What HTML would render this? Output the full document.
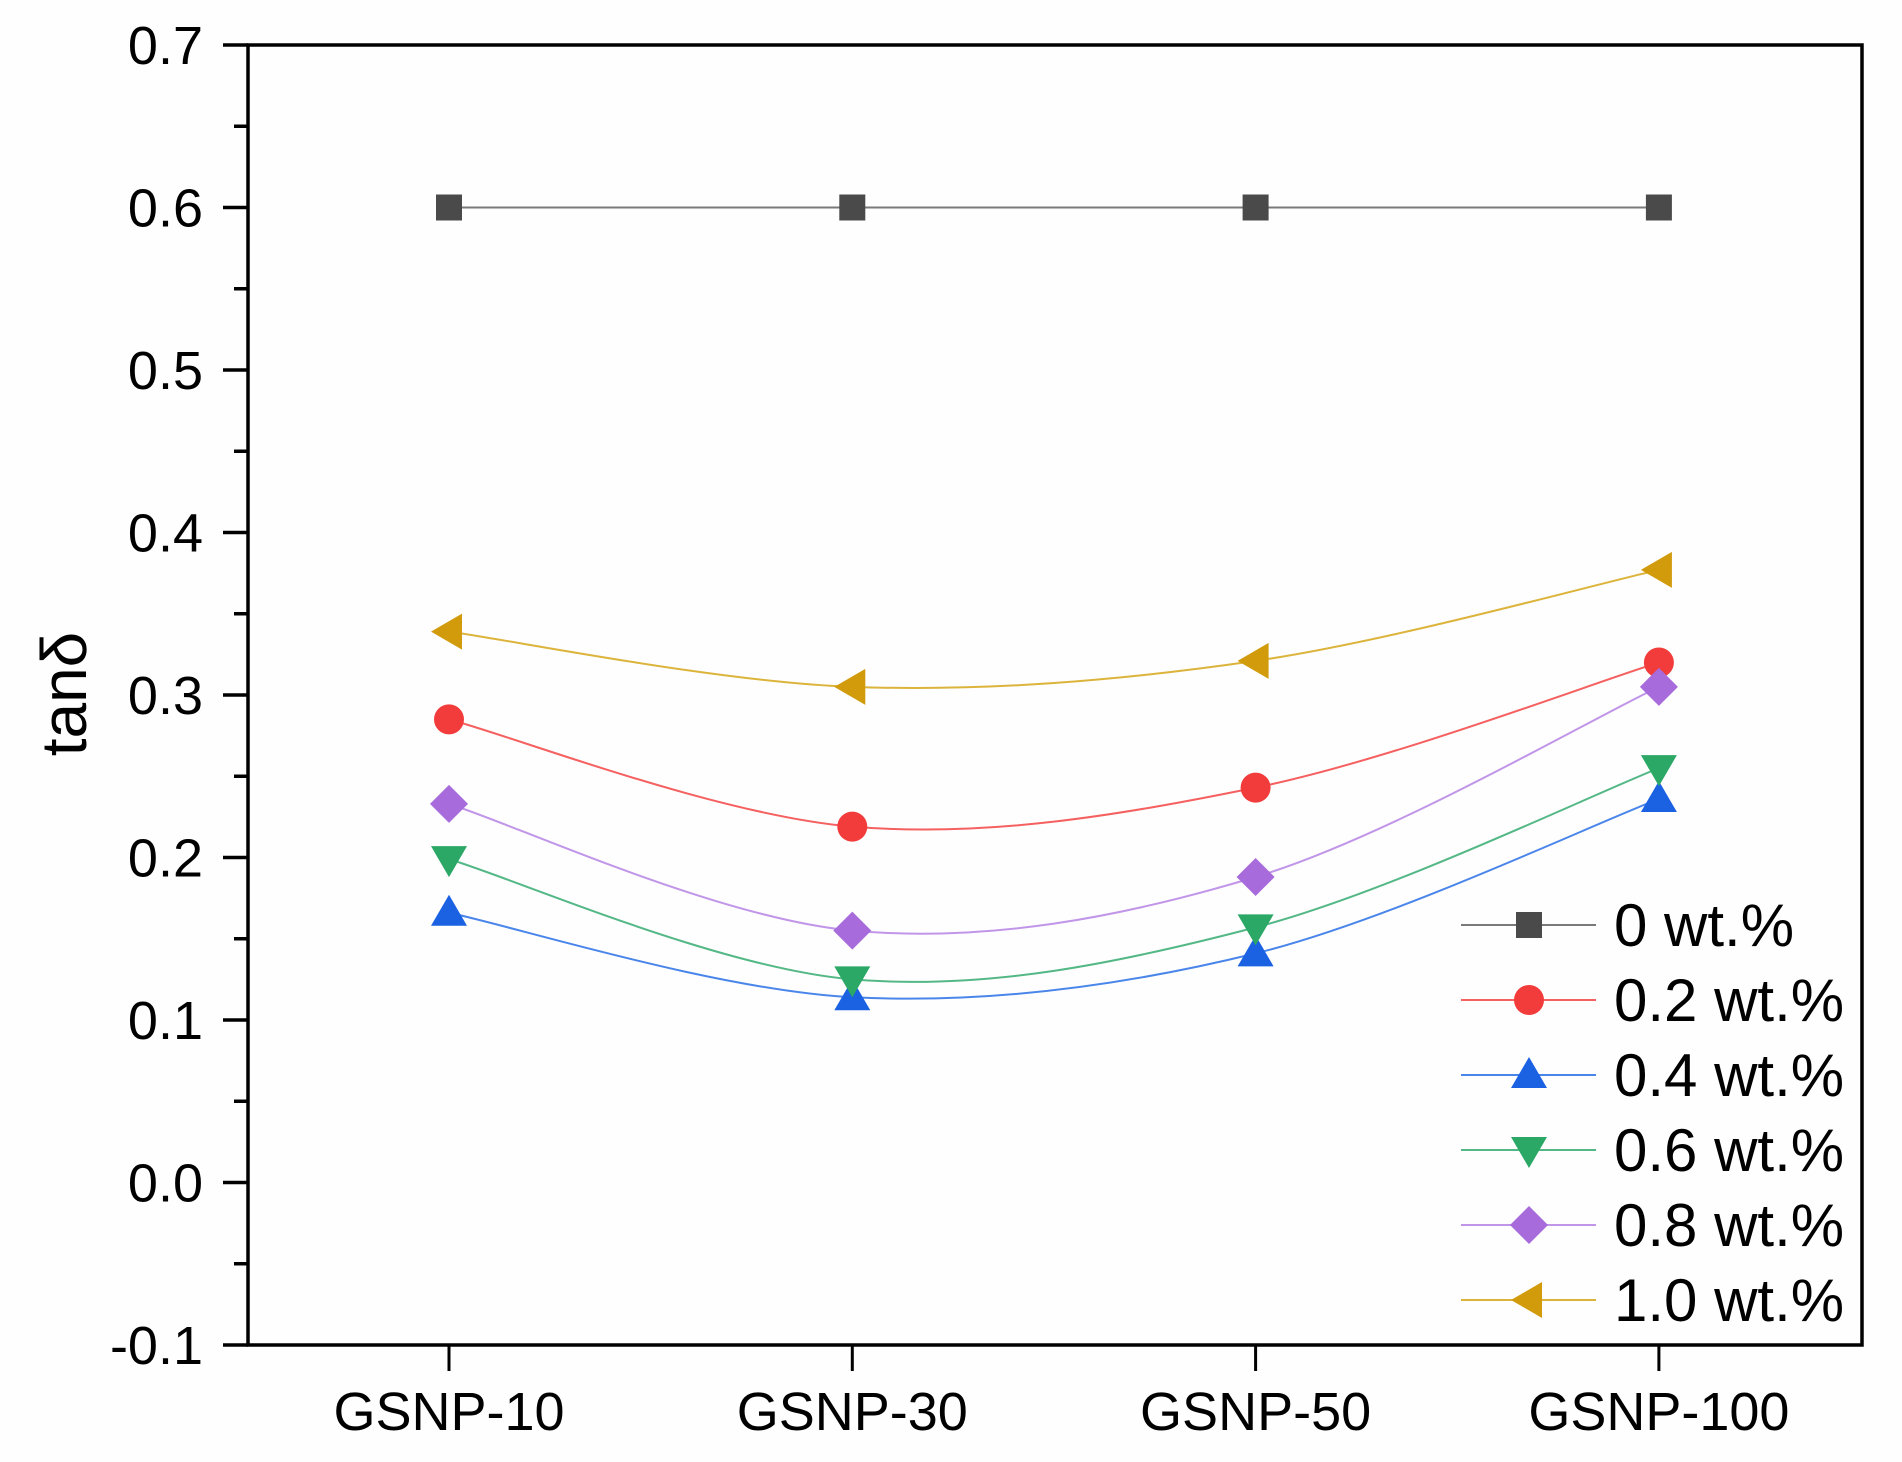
<!DOCTYPE html>
<html><head><meta charset="utf-8"><style>
html,body{margin:0;padding:0;background:#fff;}
svg{display:block;font-family:"Liberation Sans",Arial,sans-serif;}
</style></head><body>
<svg id="chart" width="1902" height="1462" viewBox="0 0 1902 1462" xmlns="http://www.w3.org/2000/svg">
<rect x="0" y="0" width="1902" height="1462" fill="#fefefe"/>
<g id="plot"></g>
</svg>
<script>
const categories = ["GSNP-10","GSNP-30","GSNP-50","GSNP-100"];
const seriesNames = ["0 wt.%","0.2 wt.%","0.4 wt.%","0.6 wt.%","0.8 wt.%","1.0 wt.%"];
const s0 = [0.600,0.600,0.600,0.600];
const s02 = [0.285,0.219,0.243,0.320];
const s04 = [0.166,0.114,0.141,0.236];
const s06 = [0.199,0.125,0.157,0.255];
const s08 = [0.233,0.155,0.188,0.305];
const s10 = [0.339,0.305,0.321,0.377];
const yTicks = [-0.1,0.0,0.1,0.2,0.3,0.4,0.5,0.6,0.7];
const yTickLabels = ["-0.1","0.0","0.1","0.2","0.3","0.4","0.5","0.6","0.7"];

const NS="http://www.w3.org/2000/svg";
const g=document.getElementById('plot');
const L=248,R=1862,T=45,B=1345;
const xFirst=449,xStep=403.3;
function xs(i){return xFirst+i*xStep;}
function ys(v){return B-(v-(-0.1))/0.8*(B-T);}
function mk(tag,attrs,parent){const e=document.createElementNS(NS,tag);for(const k in attrs)e.setAttribute(k,attrs[k]);(parent||g).appendChild(e);return e;}

const frame=mk('rect',{x:L,y:T,width:R-L,height:B-T,fill:'none',stroke:'#000','stroke-width':3.5});



for(let i=0;i<yTicks.length;i++){
  const y=ys(yTicks[i]);
  const t=mk('line',{x1:L-25,x2:L,y1:y,y2:y,stroke:'#000','stroke-width':3.5});
  
  
  const lb=mk('text',{x:203,y:y+19,'text-anchor':'end','font-size':54,fill:'#000'});
  lb.textContent=yTickLabels[i];
  
  
  if(i<yTicks.length-1){
    const ym=ys(yTicks[i]+0.05);
    const m=mk('line',{x1:L-14,x2:L,y1:ym,y2:ym,stroke:'#000','stroke-width':3.5});
    
    
  }
}
for(let i=0;i<categories.length;i++){
  const x=xs(i);
  const t=mk('line',{x1:x,x2:x,y1:B,y2:B+26,stroke:'#000','stroke-width':3});
  
  
  const lb=mk('text',{x:x,y:1430,'text-anchor':'middle','font-size':54,fill:'#000'});
  lb.textContent=categories[i];
  
  
}
const yt=mk('text',{x:0,y:0,'text-anchor':'middle','font-size':64,fill:'#000',transform:'translate(86,694) rotate(-90)'});
yt.textContent='tanδ';



const allSeries=[s0,s02,s04,s06,s08,s10];
const markerColors=['#4a4a4a','#f23b3b','#1b62e3','#2ba766','#a86bdb','#d19b0c'];
const lineColors=['#7a7a7a','#f56060','#4a86ea','#54b886','#c196e8','#dcb43c'];
const shapes=['square','circle','up','down','diamond','left'];

function marker(shape,x,y,color,parent){
  let e;
  if(shape==='square') e=mk('rect',{x:x-13,y:y-13,width:26,height:26,fill:color},parent);
  else if(shape==='circle') e=mk('circle',{cx:x,cy:y,r:15,fill:color},parent);
  else {
    let p;
    if(shape==='up') p=[[x,y-18],[x+18,y+13],[x-18,y+13]];
    else if(shape==='down') p=[[x,y+18],[x+18,y-13],[x-18,y-13]];
    else if(shape==='diamond') p=[[x,y-19],[x+19,y],[x,y+19],[x-19,y]];
    else p=[[x-18,y],[x+13,y-18],[x+13,y+18]];
    e=mk('polygon',{points:p.map(q=>q.join(',')).join(' '),fill:color},parent);
  }
  return e;
}
function splinePath(pts){
  let d='M'+pts[0][0]+','+pts[0][1];
  for(let i=0;i<pts.length-1;i++){
    const p0=pts[i-1]||pts[i],p1=pts[i],p2=pts[i+1],p3=pts[i+2]||pts[i+1];
    const c1=[p1[0]+(p2[0]-p0[0])/6,p1[1]+(p2[1]-p0[1])/6];
    const c2=[p2[0]-(p3[0]-p1[0])/6,p2[1]-(p3[1]-p1[1])/6];
    d+=' C'+c1.join(',')+' '+c2.join(',')+' '+p2.join(',');
  }
  return d;
}
for(let k=0;k<allSeries.length;k++){
  const sg=mk('g',{});
  
  
  const pts=allSeries[k].map((v,i)=>[xs(i),ys(v)]);
  const ln=mk('path',{d:splinePath(pts),fill:'none',stroke:lineColors[k],'stroke-width':2},sg);
  
  
  for(const p of pts){
    const m=marker(shapes[k],p[0],p[1],markerColors[k],sg);
    
    
  }
}
const lg=mk('g',{});


for(let k=0;k<seriesNames.length;k++){
  const y=925+k*75;
  const eg=mk('g',{},lg);
  
  
  mk('line',{x1:1461,x2:1596,y1:y,y2:y,stroke:lineColors[k],'stroke-width':2},eg);
  marker(shapes[k],1529,y,markerColors[k],eg);
  const t=mk('text',{x:1614,y:y+21,'font-size':60,fill:'#000'},eg);
  t.textContent=seriesNames[k];
}
</script>
</body></html>
